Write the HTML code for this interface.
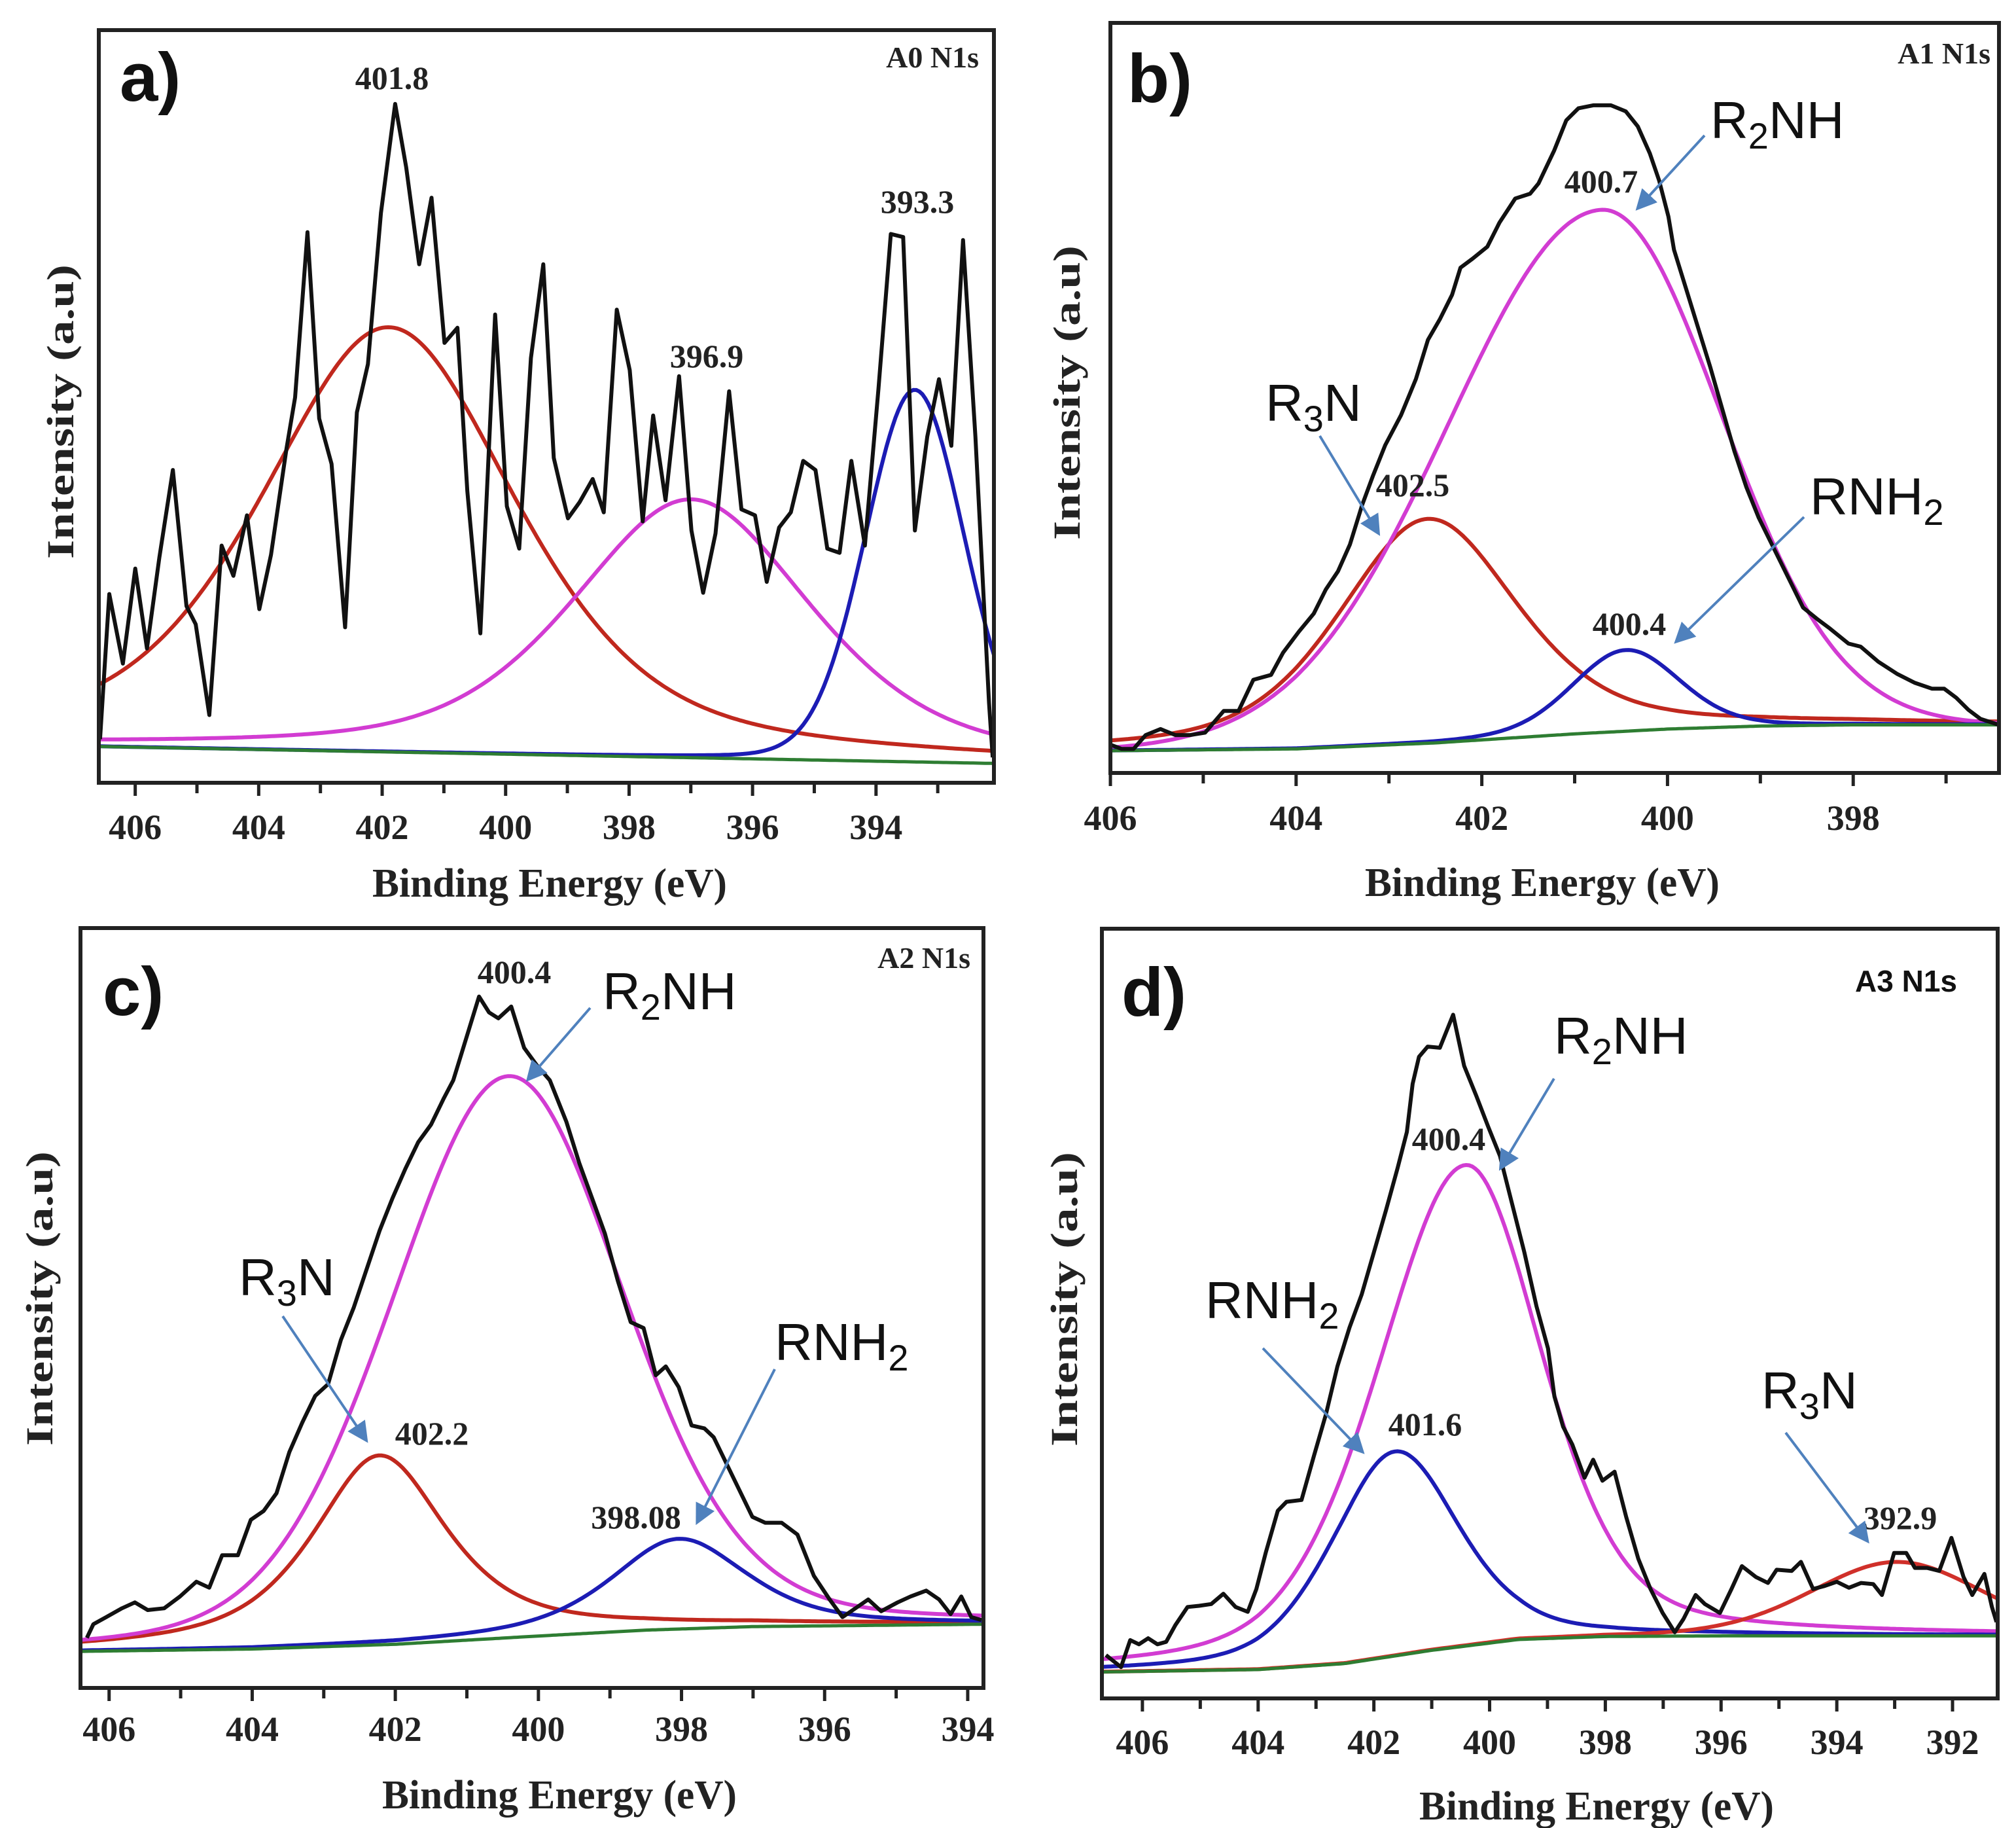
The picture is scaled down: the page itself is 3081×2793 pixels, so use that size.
<!DOCTYPE html>
<html><head><meta charset="utf-8"><style>
html,body{margin:0;padding:0;background:#fff;}
svg{display:block;}
.num{font-family:"Liberation Serif",serif;font-weight:bold;fill:#222;}
.lab{font-family:"Liberation Sans",sans-serif;fill:#111;}
</style></head><body>
<svg id="fig" width="3081" height="2793" viewBox="0 0 3081 2793" xmlns="http://www.w3.org/2000/svg">
<defs>
<marker id="arr" markerWidth="8" markerHeight="8" refX="6" refY="4" orient="auto" markerUnits="strokeWidth"><path d="M0,0 L8,4 L0,8 z" fill="#4f81bd"/></marker>
</defs>
</svg>
<script>
// ---------- Panel a (A0 N1s) ----------
const aEnergy=[406.57,406.42,406.20,406.00,405.81,405.61,405.39,405.17,405.02,404.80,404.60,404.41,404.19,403.99,403.80,403.55,403.41,403.21,403.02,402.82,402.60,402.41,402.23,402.02,401.79,401.61,401.40,401.20,400.99,400.78,400.62,400.41,400.17,399.98,399.78,399.59,399.39,399.22,398.99,398.80,398.59,398.41,398.20,397.99,397.78,397.61,397.41,397.19,396.99,396.80,396.60,396.38,396.18,395.96,395.77,395.57,395.38,395.18,394.98,394.79,394.59,394.40,394.18,393.96,393.76,393.56,393.37,393.17,392.98,392.78,392.59,392.39,392.17,392.11];
const aCounts=[72,312,197,354,222,372,517,292,262,112,392,342,442,287,377,552,637,910,602,527,257,612,692,942,1122,1017,857,967,727,752,482,247,774,457,387,702,857,537,437,464,502,447,782,682,432,607,467,672,417,314,412,647,452,442,332,422,447,532,517,387,380,532,392,652,907,902,417,572,667,557,897,572,132,42];
const aBgEnergy=[406.59,392.09];
const aBgCounts=[60,32];
const aPeakCenter=[401.89,396.99,393.37];
const aPeakHeight=[702,427,615];
const aPeakFwhmHigh=[4.9,4.6,1.9];
const aPeakFwhmLow=[4.9,4.6,1.9];
const aPeakEta=[0.5,0.5,0.1];
const aTicks=[406,404,402,400,398,396,394];

// ---------- Panel b (A1 N1s) ----------
const bEnergy=[406.00,405.88,405.75,405.62,405.46,405.30,405.14,404.98,404.78,404.62,404.46,404.27,404.14,403.97,403.81,403.68,403.55,403.42,403.29,403.17,403.04,402.87,402.71,402.58,402.45,402.32,402.23,402.10,401.94,401.81,401.64,401.48,401.39,401.22,401.09,400.96,400.80,400.61,400.45,400.32,400.19,400.09,399.99,399.93,399.80,399.67,399.54,399.41,399.28,399.15,399.02,398.86,398.70,398.54,398.38,398.25,398.05,397.92,397.73,397.53,397.34,397.15,397.02,396.89,396.76,396.63,396.43];
const bCounts=[47,40,40,63,73,63,63,67,103,103,155,163,200,235,265,305,335,380,445,495,545,595,655,720,755,795,840,855,875,915,955,963,980,1035,1085,1105,1110,1110,1100,1075,1030,985,925,870,805,740,675,605,535,475,425,375,325,275,255,240,215,210,185,165,150,140,140,125,105,90,80];
const bBgEnergy=[406,404,402.5,401,400,399,398,396.43];
const bBgCounts=[37,40,50,65,73,78,80,80];
const bPeakCenter=[402.58,400.71,400.45];
const bPeakHeight=[373,869,135];
const bPeakFwhmHigh=[2.27,3.9,1.36];
const bPeakFwhmLow=[2.27,3.0,1.36];
const bPeakEta=[0.45,0.0,0.2];
const bTicks=[406,404,402,400,398];

// ---------- Panel c (A2 N1s) ----------
const cEnergy=[406.31,406.22,406.04,405.82,405.64,405.46,405.23,405.01,404.78,404.60,404.42,404.20,404.02,403.84,403.66,403.48,403.30,403.12,402.94,402.76,402.58,402.40,402.22,402.04,401.86,401.68,401.50,401.32,401.19,401.05,400.83,400.69,400.56,400.38,400.20,400.02,399.84,399.61,399.43,399.25,399.07,398.89,398.71,398.53,398.36,398.22,398.04,397.86,397.68,397.55,397.37,397.19,397.01,396.83,396.60,396.38,396.15,395.93,395.75,395.57,395.39,395.21,394.98,394.80,394.58,394.40,394.24,394.09,393.95,393.81];
const cCounts=[85,108,120,135,145,132,135,155,180,170,225,225,285,300,330,400,450,495,515,590,645,710,775,830,880,925,955,1000,1030,1085,1172,1145,1135,1155,1085,1055,1030,960,890,830,770,690,620,610,530,545,510,445,440,425,380,335,290,280,280,260,190,150,120,135,150,130,145,155,165,150,125,155,120,115];
const cBgEnergy=[406.4,404,402,400,398.5,397,393.78];
const cBgCounts=[62,66,74,88,98,104,108];
const cPeakCenter=[402.22,400.42,398.04];
const cPeakHeight=[321,952,153];
const cPeakFwhmHigh=[2.25,3.9,2.25];
const cPeakFwhmLow=[2.25,3.8,2.25];
const cPeakEta=[0.75,0.2,0.6];
const cTicks=[406,404,402,400,398,396,394];

// ---------- Panel d (A3 N1s) ----------
const dEnergy=[406.63,406.37,406.21,406.06,405.90,405.74,405.59,405.43,405.22,405.02,404.81,404.60,404.39,404.18,404.03,403.87,403.66,403.51,403.25,403.04,402.83,402.63,402.42,402.21,402.00,401.79,401.59,401.43,401.33,401.22,401.07,400.86,400.63,400.44,400.23,400.03,399.82,399.61,399.40,399.19,398.99,398.88,398.73,398.57,398.36,398.21,398.05,397.84,397.64,397.43,397.22,397.01,396.80,396.65,396.44,396.28,396.02,395.82,395.64,395.40,395.19,395.04,394.78,394.62,394.41,394.21,394.00,393.79,393.58,393.37,393.22,393.01,392.80,392.65,392.44,392.23,392.02,391.81,391.66,391.45,391.32,391.24];
const dCounts=[72,52,97,90,100,90,94,122,152,154,157,174,152,144,182,242,312,327,330,402,472,552,617,672,742,812,882,942,1022,1067,1084,1082,1137,1052,1002,952,902,822,742,652,582,502,452,422,367,397,362,377,302,232,182,142,110,132,172,157,142,182,220,202,192,214,212,227,182,187,194,184,192,190,172,242,242,217,217,212,267,202,172,207,152,127];
const dBgEnergy=[406.7,404,402.5,401,399.5,398,396,391.22];
const dBgCounts=[44,48,58,80,98,103,104,104];
const dPeakCenter=[400.42,401.64,392.96];
const dPeakHeight=[800,340,123];
const dPeakFwhmHigh=[3.6,2.6,3.5];
const dPeakFwhmLow=[3.1,2.6,3.5];
const dPeakEta=[0.35,0.4,0.2];
const dTicks=[406,404,402,400,398,396,394,392];

const NS="http://www.w3.org/2000/svg";
const svg=document.getElementById('fig');
function mk(tag,attrs,parent){const e=document.createElementNS(NS,tag);for(const k in attrs)e.setAttribute(k,attrs[k]);(parent||svg).appendChild(e);return e;}
function pv(x,c,fh,fl,eta){const d=x-c;const f=d>=0?fh:fl;const g=Math.exp(-4*Math.LN2*d*d/(f*f));const l=1/(1+4*d*d/(f*f));return eta*l+(1-eta)*g;}
function interp(x,xs,ys){
  if(x>=xs[0])return ys[0];
  for(let i=1;i<xs.length;i++){if(x>=xs[i]){const t=(xs[i-1]-x)/(xs[i-1]-xs[i]);return ys[i-1]+t*(ys[i]-ys[i-1]);}}
  return ys[ys.length-1];
}

function panel(cfg){
  const g=mk('g',{});
  
  
  const L=cfg.box[0],T=cfg.box[1],R=cfg.box[2],B=cfg.box[3];
  const sx=e=>L+(cfg.xdom[0]-e)/(cfg.xdom[0]-cfg.xdom[1])*(R-L);
  const sy=v=>B-v/cfg.ymax*(B-T);
  const cid='clip-'+cfg.name;
  const cp=mk('clipPath',{id:cid},g);mk('rect',{x:L,y:T,width:R-L,height:B-T},cp);
  const plot=mk('g',{'clip-path':'url(#'+cid+')'},g);
  const N=300;
  for(let k=0;k<cfg.pc.length;k++){
    let p='';
    for(let i=0;i<=N;i++){const e=cfg.xdom[0]-(cfg.xdom[0]-cfg.xdom[1])*i/N;const v=interp(e,cfg.bgE,cfg.bgI)+cfg.ph[k]*pv(e,cfg.pc[k],cfg.pfh[k],cfg.pfl[k],cfg.pe[k]);p+=(i?'L':'M')+sx(e).toFixed(1)+','+sy(v).toFixed(1);}
    const pe=mk('path',{d:p,fill:'none',stroke:cfg.colors[k],'stroke-width':6},plot);
    
    
  }
  let d='';
  for(let i=0;i<=N;i++){const e=cfg.xdom[0]-(cfg.xdom[0]-cfg.xdom[1])*i/N;d+=(i?'L':'M')+sx(e).toFixed(1)+','+sy(interp(e,cfg.bgE,cfg.bgI)).toFixed(1);}
  const bgp=mk('path',{d:d,fill:'none',stroke:'#2e7d32','stroke-width':5},plot);
  
  
  let r='';
  for(let i=0;i<cfg.E.length;i++){r+=(i?'L':'M')+sx(cfg.E[i]).toFixed(1)+','+sy(cfg.I[i]).toFixed(1);}
  const rl=mk('path',{d:r,fill:'none',stroke:'#111','stroke-width':6,'stroke-linejoin':'round'},plot);
  
  
  const fr=mk('rect',{x:L,y:T,width:R-L,height:B-T,fill:'none',stroke:'#222','stroke-width':6},g);
  
  
  const lo=Math.ceil(cfg.xdom[1]),hi=Math.floor(cfg.xdom[0]);
  for(let e=lo;e<=hi;e++){
    const x=sx(e);const major=cfg.ticks.indexOf(e)>=0;
    const tk=mk('line',{x1:x,y1:B,x2:x,y2:B+(major?20:16),stroke:'#222','stroke-width':5},g);
    
    
  }
  for(const t of cfg.ticks){
    const tl=mk('text',{x:sx(t),y:cfg.tickY,'text-anchor':'middle','font-size':54,class:'num'},g);
    tl.textContent=t;
    
    
  }
  const xt=mk('text',{x:cfg.xtitle[0],y:cfg.xtitle[1],'text-anchor':'middle','font-size':62,class:'num',textLength:542,lengthAdjust:'spacingAndGlyphs'},g);
  xt.textContent='Binding Energy (eV)';
  
  
  const yt=mk('text',{x:0,y:0,'text-anchor':'middle','font-size':58,class:'num',textLength:450,lengthAdjust:'spacingAndGlyphs',transform:'translate('+cfg.ytitle[0]+','+cfg.ytitle[1]+') rotate(-90)'},g);
  yt.textContent='Intensity (a.u)';
  
  
  return g;
}

panel({name:'panel-a',box:[151,46,1519,1196],xdom:[406.59,392.09],ymax:1244,E:aEnergy,I:aCounts,bgE:aBgEnergy,bgI:aBgCounts,pc:aPeakCenter,ph:aPeakHeight,pfh:aPeakFwhmHigh,pfl:aPeakFwhmLow,pe:aPeakEta,colors:['#c0281e','#d23cd2','#1c1cb4'],ticks:aTicks,tickY:1282,xtitle:[840,1370],ytitle:[112,629]});
panel({name:'panel-b',box:[1697,35,3055,1181],xdom:[406.0,396.43],ymax:1247,E:bEnergy,I:bCounts,bgE:bBgEnergy,bgI:bBgCounts,pc:bPeakCenter,ph:bPeakHeight,pfh:bPeakFwhmHigh,pfl:bPeakFwhmLow,pe:bPeakEta,colors:['#c0281e','#d23cd2','#1c1cb4'],ticks:bTicks,tickY:1268,xtitle:[2357,1369],ytitle:[1650,600]});
panel({name:'panel-c',box:[123,1418,1503,2579],xdom:[406.40,393.78],ymax:1288,E:cEnergy,I:cCounts,bgE:cBgEnergy,bgI:cBgCounts,pc:cPeakCenter,ph:cPeakHeight,pfh:cPeakFwhmHigh,pfl:cPeakFwhmLow,pe:cPeakEta,colors:['#c0281e','#d23cd2','#1c1cb4'],ticks:cTicks,tickY:2660,xtitle:[855,2763],ytitle:[80,1984]});
panel({name:'panel-d',box:[1684,1419,3053,2595],xdom:[406.70,391.22],ymax:1280,E:dEnergy,I:dCounts,bgE:dBgEnergy,bgI:dBgCounts,pc:dPeakCenter,ph:dPeakHeight,pfh:dPeakFwhmHigh,pfl:dPeakFwhmLow,pe:dPeakEta,colors:['#d23cd2','#1c1cb4','#d0302a'],ticks:dTicks,tickY:2680,xtitle:[2440,2780],ytitle:[1646,1985]});

function txt(x,y,s,cls,size,anchor,name,weight){
  const t=mk('text',{x:x,y:y,'font-size':size,class:cls,'text-anchor':anchor||'start'});
  if(weight)t.setAttribute('font-weight',weight);
  t.innerHTML=s;
  
  
}
function arrow(x1,y1,x2,y2){
  const l=mk('line',{x1:x1,y1:y1,x2:x2,y2:y2,stroke:'#4f81bd','stroke-width':4,'marker-end':'url(#arr)'});
  
  
}
const sub=(a,n,b)=>a+'<tspan dy="16" font-size="56">'+n+'</tspan><tspan dy="-16">'+b+'</tspan>';
txt(183,154,'a)','lab',105,'start','panel-label-a','bold');
txt(1723,156,'b)','lab',105,'start','panel-label-b','bold');
txt(157,1551,'c)','lab',105,'start','panel-label-c','bold');
txt(1714,1552,'d)','lab',105,'start','panel-label-d','bold');
txt(1496,103,'A0 N1s','num',46,'end','sample-label-a0');
txt(3042,97,'A1 N1s','num',46,'end','sample-label-a1');
txt(1483,1479,'A2 N1s','num',46,'end','sample-label-a2');
txt(2991,1515,'A3 N1s','lab',46,'end','sample-label-a3','bold');
txt(599,136,'401.8','num',50,'middle','peak-value-401-8');
txt(1080,561,'396.9','num',50,'middle','peak-value-396-9');
txt(1402,325,'393.3','num',50,'middle','peak-value-393-3');
txt(2614,211,sub('R','2','NH'),'lab',80,'start','label-r2nh');
txt(2447,294,'400.7','num',50,'middle','peak-value-400-7');
arrow(2605,207,2505,316);
txt(1934,643,sub('R','3','N'),'lab',80,'start','label-r3n');
txt(2159,758,'402.5','num',50,'middle','peak-value-402-5');
arrow(2017,666,2105,812);
txt(2766,786,sub('RNH','2',''),'lab',80,'start','label-rnh2');
txt(2490,970,'400.4','num',50,'middle','peak-value-400-4');
arrow(2757,790,2564,978);
txt(786,1502,'400.4','num',50,'middle','peak-value-400-4');
txt(921,1542,sub('R','2','NH'),'lab',80,'start','label-r2nh');
arrow(902,1540,809,1647);
txt(365,1979,sub('R','3','N'),'lab',80,'start','label-r3n');
txt(660,2207,'402.2','num',50,'middle','peak-value-402-2');
arrow(432,2011,558,2198);
txt(1184,2078,sub('RNH','2',''),'lab',80,'start','label-rnh2');
txt(972,2335,'398.08','num',50,'middle','peak-value-398-08');
arrow(1184,2092,1067,2323);
txt(2375,1610,sub('R','2','NH'),'lab',80,'start','label-r2nh');
txt(2214,1757,'400.4','num',50,'middle','peak-value-400-4');
arrow(2375,1648,2295,1782);
txt(1842,2014,sub('RNH','2',''),'lab',80,'start','label-rnh2');
txt(2178,2193,'401.6','num',50,'middle','peak-value-401-6');
arrow(1930,2060,2080,2216);
txt(2692,2152,sub('R','3','N'),'lab',80,'start','label-r3n');
txt(2904,2336,'392.9','num',50,'middle','peak-value-392-9');
arrow(2729,2189,2852,2352);
</script>
</body></html>
